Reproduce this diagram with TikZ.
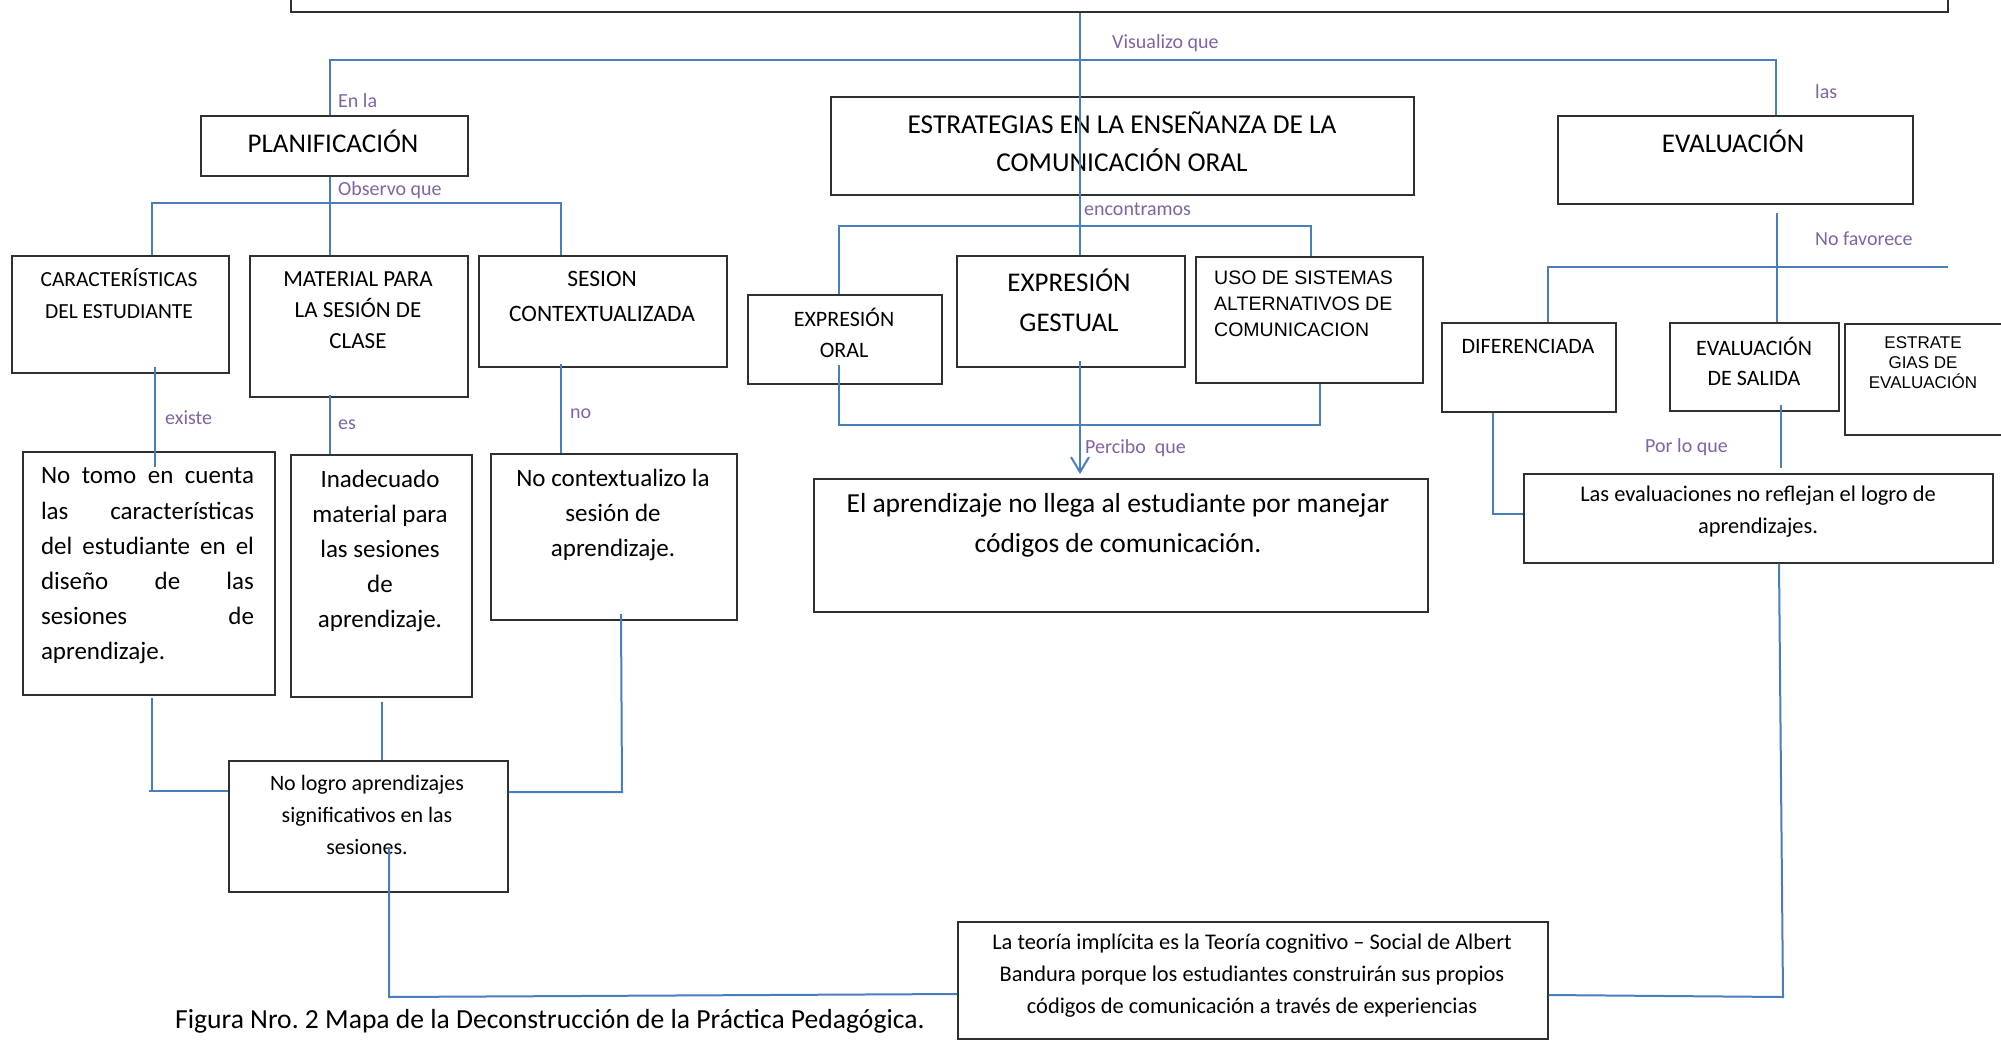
\documentclass[tikz,border=0pt]{standalone}
\usepackage{fontspec}
\setmainfont{Carlito}
\newfontfamily\arialf{Liberation Sans}
\usetikzlibrary{arrows.meta}
\definecolor{linec}{HTML}{4A7EBB}
\definecolor{lblc}{HTML}{8064A2}
\definecolor{boxc}{HTML}{303030}
\newcommand\fsz[2]{\fontsize{#1pt}{#2pt}\selectfont}
\frenchspacing
\tikzset{
  box/.style={draw=boxc, line width=1.6pt, inner sep=0pt, anchor=north west},
  conn/.style={draw=linec, line width=2pt},
  lbl/.style={text=lblc, font=\fsz{20}{24}, anchor=west, inner sep=0pt},
  txt/.style={inner sep=0pt, align=center, text=black},
}
\begin{document}
\begin{tikzpicture}[x=1pt,y=-1pt]
\useasboundingbox (0,0) rectangle (2001,1041);
\clip (0,0) rectangle (2001,1041);
% boxes
\node[box, minimum width=1657pt, minimum height=41pt] (top) at (290,-30) {};
\node[box, minimum width=267pt, minimum height=60pt] (plan) at (200,115) {};
\node[box, minimum width=583pt, minimum height=98pt] (estr) at (830,96) {};
\node[box, minimum width=355pt, minimum height=88pt] (eval) at (1557,115) {};
\node[box, minimum width=217pt, minimum height=117pt] (car) at (11,255) {};
\node[box, minimum width=218pt, minimum height=141pt] (mat) at (249,255) {};
\node[box, minimum width=248pt, minimum height=111pt] (ses) at (478,255) {};
\node[box, minimum width=194pt, minimum height=89pt] (exo) at (747,294) {};
\node[box, minimum width=228pt, minimum height=111pt] (ges) at (956,255) {};
\node[box, minimum width=227pt, minimum height=126pt] (uso) at (1195,256) {};
\node[box, minimum width=174pt, minimum height=89pt] (dif) at (1441,322) {};
\node[box, minimum width=169pt, minimum height=88pt] (sal) at (1669,322) {};
\node[box, minimum width=180pt, minimum height=111pt] (est2) at (1844,323) {};
\node[box, minimum width=252pt, minimum height=243pt] (notomo) at (22,451) {};
\node[box, minimum width=181pt, minimum height=242pt] (inad) at (290,454) {};
\node[box, minimum width=246pt, minimum height=166pt] (noctx) at (490,453) {};
\node[box, minimum width=614pt, minimum height=133pt] (aprend) at (813,478) {};
\node[box, minimum width=469pt, minimum height=89pt] (evals) at (1523,473) {};
\node[box, minimum width=279pt, minimum height=131pt] (nologro) at (228,760) {};
\node[box, minimum width=590pt, minimum height=117pt] (teoria) at (957,921) {};
% texts
\node[txt, font=\fsz{27}{38}] (tplan) at (333,141) {PLANIFICACIÓN};
\node[txt, font=\fsz{27.3}{38}] (testr) at (1122,142) {ESTRATEGIAS EN LA ENSEÑANZA DE LA\\COMUNICACIÓN ORAL};
\node[txt, font=\fsz{27}{38}] (teval) at (1733,141) {EVALUACIÓN};
\node[txt, font=\fsz{21.5}{32}] (tcar) at (119,294) {CARACTERÍSTICAS\\DEL ESTUDIANTE};
\node[txt, font=\fsz{23}{31}] (tmat) at (358,310) {MATERIAL PARA\\LA SESIÓN DE\\CLASE};
\node[txt, font=\fsz{23.5}{35}] (tses) at (602,296) {SESION\\CONTEXTUALIZADA};
\node[txt, font=\fsz{22}{31}] (texo) at (844,333) {EXPRESIÓN\\ORAL};
\node[txt, font=\fsz{27}{40}] (tges) at (1069,300) {EXPRESIÓN\\GESTUAL};
\node[txt, align=left, font=\arialf\fsz{19.5}{26}, anchor=west] (tuso) at (1214,304) {USO DE SISTEMAS\\ALTERNATIVOS DE\\COMUNICACION};
\node[txt, font=\fsz{22}{30}] (tdif) at (1528,346) {DIFERENCIADA};
\node[txt, font=\fsz{22}{30}] (tsal) at (1754,361) {EVALUACIÓN\\DE SALIDA};
\node[txt, font=\arialf\fsz{17}{20}] (test2) at (1923,363) {ESTRATE\\GIAS DE\\EVALUACIÓN};
\node[txt, align=left, font=\fsz{25}{35.2}] (tnotomo) at (147.5,566) {\hbox to 213pt{No\hfill tomo\hfill en\hfill cuenta}\\\hbox to 213pt{las\hfill características}\\\hbox to 213pt{del\hfill estudiante\hfill en\hfill el}\\\hbox to 213pt{diseño\hfill de\hfill las}\\\hbox to 213pt{sesiones\hfill de}\\\hbox to 213pt{aprendizaje.\hfill}};
\node[txt, font=\fsz{25}{35}] (tinad) at (380,551) {Inadecuado\\material para\\las sesiones\\de\\aprendizaje.};
\node[txt, font=\fsz{25}{35}] (tnoctx) at (613,515) {No contextualizo la\\sesión de\\aprendizaje.};
\node[txt, font=\fsz{27.5}{40}] (taprend) at (1118,525) {El aprendizaje no llega al estudiante por manejar\\códigos de comunicación.};
\node[txt, font=\fsz{22.4}{32}] (tevals) at (1758,512) {Las evaluaciones no reflejan el logro de\\aprendizajes.};
\node[txt, font=\fsz{22}{32}] (tnologro) at (367,815) {No logro aprendizajes\\significativos en las\\sesiones.};
\node[txt, font=\fsz{22.4}{32}] (tteoria) at (1252,976) {La teoría implícita es la Teoría cognitivo – Social de Albert\\Bandura porque los estudiantes construirán sus propios\\códigos de comunicación a través de experiencias};
\node[txt, font=\fsz{27.6}{32}, anchor=west] (caption) at (175,1021) {Figura Nro. 2 Mapa de la Deconstrucción de la Práctica Pedagógica.};
% connector coordinates
\coordinate (cV) at (1080,60);
\coordinate (hL) at (330,60);
\coordinate (hR) at (1776,60);
\coordinate (oL) at (152,203);
\coordinate (oR) at (561,203);
\coordinate (eL) at (839,226);
\coordinate (eR) at (1311,226);
\coordinate (bL) at (839,425);
\coordinate (bR) at (1320,425);
\coordinate (exoS) at (839,365);
\coordinate (gesS) at (1080,361);
\coordinate (arrT) at (1080,474);
\coordinate (evS) at (1777,213);
\coordinate (fL) at (1548,267);
\coordinate (fR) at (1948,267);
\coordinate (difB) at (1493,514);
\coordinate (salS) at (1781,405);
\coordinate (salE) at (1781,468);
\coordinate (evB) at (1783,997);
\coordinate (carS) at (155,367);
\coordinate (carE) at (155,467);
\coordinate (matS) at (330,395);
\coordinate (sesS) at (561,364);
\coordinate (ntS) at (152,698);
\coordinate (ntB) at (152,791);
\coordinate (inS) at (382,702);
\coordinate (ncS) at (621,614);
\coordinate (ncB) at (622,792);
\coordinate (nlS) at (389,847);
\coordinate (nlB) at (389,997);
% connectors
\draw[conn] (cV |- top.south) -- (cV |- ges.north);
\draw[conn] (hL |- plan.north) -- (hL) -- (hR) -- (hR |- eval.north);
\draw[conn] (hL |- plan.south) -- (hL |- mat.north);
\draw[conn] (oL |- car.north) -- (oL) -- (oR) -- (oR |- ses.north);
\draw[conn] (eL |- exo.north) -- (eL) -- (eR) -- (eR |- uso.north);
\draw[conn] (exoS) -- (bL) -- (bR) -- (bR |- uso.south);
\draw[conn, -{Straight Barb[length=15pt,width=18pt,line width=2pt]}] (gesS) -- (arrT);
\draw[conn] (evS) -- (evS |- sal.north);
\draw[conn] (fL |- dif.north) -- (fL) -- (fR);
\draw[conn] (difB |- dif.south) -- (difB) -- (difB -| evals.west);
\draw[conn] (salS) -- (salE);
\draw[conn] ([xshift=-4pt]evB |- evals.south) -- (evB) -- ([yshift=2pt]evB -| teoria.east);
\draw[conn] (carS) -- (carE);
\draw[conn] (matS) -- (matS |- inad.north);
\draw[conn] (sesS) -- (sesS |- noctx.north);
\draw[conn] (ntS) -- (ntB) -- ([xshift=-3pt]ntB) -- (ntB) -- (ntB -| nologro.west);
\draw[conn] (inS) -- (inS |- nologro.north);
\draw[conn] (ncS) -- (ncB) -- (ncB -| nologro.east);
\draw[conn] (nlS) -- (nlB) -- ([yshift=3pt]nlB -| teoria.west);
% labels
\node[lbl] (lvis) at (1112,43) {Visualizo que};
\node[lbl] (lenla) at (338,101) {En la};
\node[lbl] (llas) at (1815,92) {las};
\node[lbl] (lobs) at (338,190) {Observo que};
\node[lbl] (lenc) at (1084,209) {encontramos};
\node[lbl] (lnofav) at (1815,239) {No favorece};
\node[lbl] (lexiste) at (165,418) {existe};
\node[lbl] (les) at (338,425) {es};
\node[lbl] (lno) at (570,414) {no};
\node[lbl] (lperc) at (1085,448) {Percibo\ \ que};
\node[lbl] (lpor) at (1645,447) {Por lo que};
\end{tikzpicture}
\end{document}
